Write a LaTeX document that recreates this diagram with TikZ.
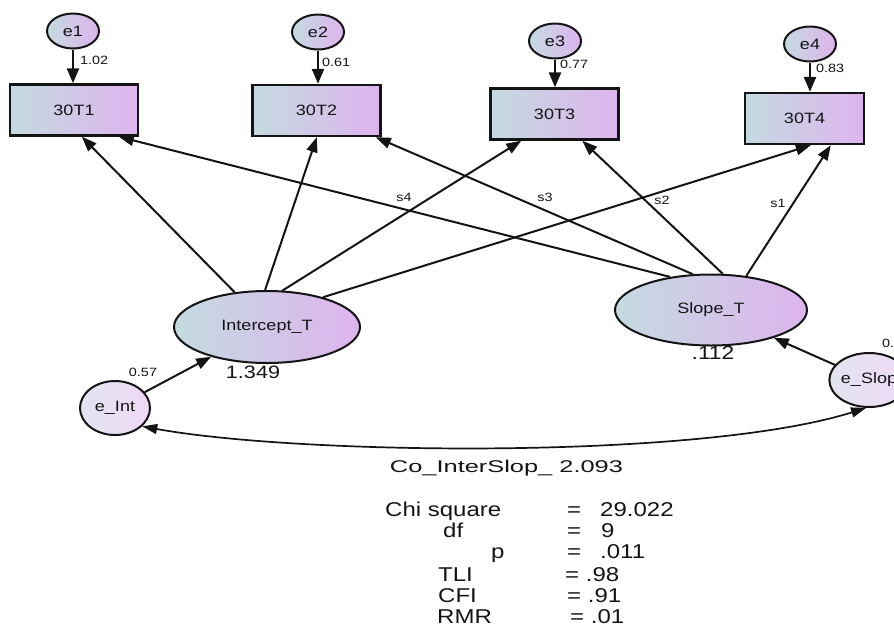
\documentclass[tikz,border=0pt]{standalone}
\usepackage{fontspec}
\usepackage{graphicx}
\setmainfont{Liberation Sans}[FakeStretch=1.2]
\usetikzlibrary{arrows.meta,shapes.geometric,calc}
\definecolor{shL}{RGB}{196,218,224}
\definecolor{shR}{RGB}{222,180,238}
\definecolor{elL}{RGB}{226,228,240}
\definecolor{elR}{RGB}{240,216,246}
\definecolor{ink}{RGB}{20,20,20}
\begin{document}
\begin{tikzpicture}[x=1pt,y=-1pt,
  obs/.style={draw=ink,line width=2.4pt,rectangle,inner sep=0pt,minimum width=128pt,minimum height=51pt,left color=shL,right color=shR,text=ink,font=\fontsize{15}{15}\selectfont},
  lat/.style={draw=ink,line width=2pt,ellipse,inner sep=0pt,left color=shL,right color=shR,text=ink,font=\fontsize{15}{15}\selectfont},
  err/.style={draw=ink,line width=2pt,ellipse,inner sep=0pt,minimum width=52pt,minimum height=35pt,left color=shL,right color=shR,text=ink,font=\fontsize{15}{15}\selectfont},
  res/.style={draw=ink,line width=2pt,ellipse,inner sep=0pt,minimum width=70pt,minimum height=54pt,left color=elL,right color=elR,text=ink,font=\fontsize{15}{15}\selectfont},
  reg/.style={draw=ink,line width=2pt,-{Triangle[length=15pt,width=11pt]}},
  erra/.style={draw=ink,line width=2.6pt,-{Triangle[length=15pt,width=12pt]}},
  cov/.style={draw=ink,line width=1.7pt,{Triangle[length=15pt,width=10pt]}-{Triangle[length=15pt,width=10pt]}},
  lbl/.style={inner sep=0pt,text=ink,font=\fontsize{12}{12}\selectfont},
  big/.style={inner sep=0pt,text=ink,font=\fontsize{18}{18}\selectfont},
  stat/.style={inner sep=0pt,anchor=base west,text=ink,font=\fontsize{20}{20}\selectfont}
]
\path[use as bounding box] (0,0) rectangle (894,625);
\clip (0,0) rectangle (894,625);

% error terms
\node[err] (e1) at (73,31) {e1};
\node[err] (e2) at (318,32) {e2};
\node[err] (e3) at (555,41) {e3};
\node[err] (e4) at (810,44) {e4};

% observed
\node[obs] (t1) at (74,110) {30T1};
\node[obs] (t2) at (316.5,110.5) {30T2};
\node[obs] (t3) at (554.5,114) {30T3};
\node[obs,minimum width=119pt] (t4) at (804.5,118.5) {30T4};

% latent
\node[lat,minimum width=186pt,minimum height=72pt] (iT) at (267,327) {Intercept\_T};
\node[lat,minimum width=192pt,minimum height=71pt] (sT) at (711,310) {Slope\_T};

% residuals
\node[res] (eI) at (115,408) {e\_Int};
\node[res] (eS) at (869,380) {e\_Slop};

% error arrows
\draw[erra] (e1.south) -- (e1.south |- t1.north);
\draw[erra] (e2.south) -- (e2.south |- t2.north);
\draw[erra] (e3.south) -- (e3.south |- t3.north);
\draw[erra] (e4.south) -- (e4.south |- t4.north);
\node[lbl,anchor=west] (l1) at (80,60) {1.02};
\node[lbl,anchor=west] (l2) at (322,62) {0.61};
\node[lbl,anchor=west] (l3) at (560,64) {0.77};
\node[lbl,anchor=west] (l4) at (816,68) {0.83};

% target points on box bottoms
\coordinate (t1a) at ([xshift=73pt]t1.south west);
\coordinate (t1b) at ([xshift=110pt]t1.south west);
\coordinate (t2a) at ([xshift=65.5pt]t2.south west);
\coordinate (t2b) at ([xshift=124.5pt]t2.south west);
\coordinate (t3a) at ([xshift=32pt]t3.south west);
\coordinate (t3b) at ([xshift=93pt]t3.south west);
\coordinate (t4a) at ([xshift=67pt]t4.south west);
\coordinate (t4b) at ([xshift=87pt]t4.south west);

% loadings
\draw[reg] (iT.133) -- (t1a);
\draw[reg] (iT.93) -- (t2a);
\draw[reg] (iT.67) -- (t3a);
\draw[reg] (iT.28) -- (t4a);
\draw[reg] (sT.141) -- (t1b);
\draw[reg] (sT.117) -- (t2b);
\draw[reg] (sT.72) -- (t3b);
\draw[reg] (sT.44) -- (t4b);

\node[lbl] (s4) at (404,197) {s4};
\node[lbl] (s3) at (545,197) {s3};
\node[lbl] (s2) at (662,200) {s2};
\node[lbl] (s1) at (778,203) {s1};

% residual paths
\draw[reg] (eI) -- (iT);
\draw[reg] (eS) -- (sT);
\node[lbl] (l57) at (143,372) {0.57};
\node[lbl,anchor=west] (lS) at (882,343) {0.};

\node[big] (v1) at (253,372) {1.349};
\node[big,font=\fontsize{19}{19}\selectfont] (v2) at (713,353) {.112};

% covariance
\draw[cov] (eI.-34) .. controls (300,455) and (700,460) .. (eS.-96);
\node[inner sep=0pt,text=ink,font=\fontsize{17}{17}\selectfont] (co) at (506.5,468) {\resizebox{233pt}{\height}{Co\_InterSlop\_ 2.093}};

% fit statistics
\node[stat] (c1) at (385,516) {Chi square};
\node[stat] (c2) at (567,516) {=};
\node[stat] (c3) at (600,516) {29.022};
\node[stat] (d1) at (443,537) {df};
\node[stat] (d2) at (567,537) {=};
\node[stat] (d3) at (601,537) {9};
\node[stat] (p1) at (491,558) {p};
\node[stat] (p2) at (567,558) {=};
\node[stat] (p3) at (600,558) {.011};
\node[stat] (k1) at (438,581) {TLI};
\node[stat] (k2) at (565,581) {= .98};
\node[stat] (f1) at (438,602) {CFI};
\node[stat] (f2) at (567,602) {= .91};
\node[stat] (r1) at (437,623) {RMR};
\node[stat] (r2) at (570,623) {= .01};
\end{tikzpicture}
\end{document}
